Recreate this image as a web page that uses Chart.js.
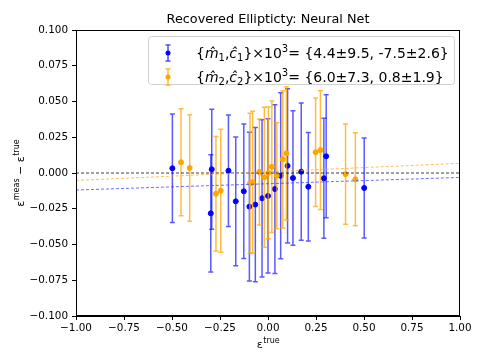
<!DOCTYPE html>
<html>
<head>
<meta charset="utf-8">
<script src="https://cdn.jsdelivr.net/npm/chart.js@4.4.1/dist/chart.umd.min.js"></script>
<style>
  html, body { margin: 0; padding: 0; background: #fff; }
</style>
</head>
<body>
<canvas id="ellipChart" width="477" height="358"></canvas>
<script>
// component 1 (blue)
const eTrue1 = [-0.498, -0.293, -0.298, -0.206, -0.168, -0.126, -0.097, -0.066, -0.031, 0.000, 0.036, 0.066, 0.102, 0.130, 0.173, 0.210, 0.291, 0.303, 0.501];
const resid1 = [0.0033, 0.0026, -0.0282, 0.0016, -0.0198, -0.0128, -0.0235, -0.0221, -0.0177, -0.0160, -0.0112, -0.0019, 0.0050, -0.0035, 0.0009, -0.0096, -0.0037, 0.0117, -0.0105];
const err1 = [0.038, 0.042, 0.041, 0.039, 0.045, 0.047, 0.052, 0.054, 0.055, 0.054, 0.059, 0.058, 0.054, 0.047, 0.048, 0.038, 0.042, 0.043, 0.035];

// component 2 (orange)
const eTrue2 = [-0.453, -0.408, -0.271, -0.246, -0.094, -0.080, -0.045, -0.019, 0.002, 0.020, 0.046, 0.077, 0.096, 0.248, 0.273, 0.404, 0.455];
const resid2 = [0.0075, 0.0035, -0.0145, -0.0124, -0.0073, -0.0064, 0.0007, -0.0030, 0.0001, 0.0044, -0.0019, 0.0096, 0.0138, 0.0145, 0.0160, -0.0008, -0.0044];
const err2 = [0.0374, 0.0373, 0.040, 0.043, 0.049, 0.0495, 0.037, 0.049, 0.046, 0.046, 0.037, 0.048, 0.0466, 0.038, 0.0415, 0.035, 0.0325];

// fitted m, c (x10^-3)
const fitM = [4.4, 6.0];
const fitC = [-7.5, 0.8];
const fitText = ['= {4.4\u00b19.5, -7.5\u00b12.6}', '= {6.0\u00b17.3, 0.8\u00b11.9}'];

const xTicks = [-1, -0.75, -0.5, -0.25, 0, 0.25, 0.5, 0.75, 1];
const yTicks = [-0.1, -0.075, -0.05, -0.025, 0, 0.025, 0.05, 0.075, 0.1];

const FONT = 'DejaVu Sans';
const minus = s => s.replace('-', '\u2212');

const pts = (xs, ys) => xs.map((v, i) => ({ x: v, y: ys[i] }));
const fitLine = k => [-1, 1].map(v => ({ x: v, y: (fitM[k] * v + fitC[k]) / 1000 }));

// legend label as pieces: [text, style]
const legendParts = k => [
   ['{', 'n'], ['m\u0302', 'i'], [String(k + 1), 'sub'], [',', 'n'], ['c\u0302', 'i'], [String(k + 1), 'sub'],
   ['}\u00d710', 'n'], ['3', 'sup'], [fitText[k], 'n']
];

const errorBars = {
   id: 'errorBars',
   beforeDatasetDraw(chart, args) {
      const ds = chart.data.datasets[args.index];
      if (!ds.errors) return;
      const { ctx, scales: { x, y } } = chart;
      ctx.save();
      ctx.strokeStyle = ds.barColor;
      ctx.lineWidth = 1.5;
      ds.data.forEach((p, j) => {
         const px = x.getPixelForValue(p.x);
         const top = y.getPixelForValue(p.y + ds.errors[j]);
         const bot = y.getPixelForValue(p.y - ds.errors[j]);
         ctx.beginPath();
         ctx.moveTo(px, top); ctx.lineTo(px, bot);
         ctx.moveTo(px - 2.5, top); ctx.lineTo(px + 2.5, top);
         ctx.moveTo(px - 2.5, bot); ctx.lineTo(px + 2.5, bot);
         ctx.stroke();
      });
      ctx.restore();
   }
};

const decorations = {
   id: 'decorations',
   afterDraw(chart) {
      const { ctx, chartArea: a } = chart;
      ctx.save();
      // frame
      ctx.strokeStyle = '#000';
      ctx.lineWidth = 1;
      ctx.strokeRect(a.left + 0.5, a.top + 0.5, a.right - a.left - 1, a.bottom - a.top - 1);

      // title
      ctx.fillStyle = '#000';
      ctx.font = '12.8px ' + FONT;
      ctx.textAlign = 'center';
      ctx.textBaseline = 'alphabetic';
      ctx.fillText('Recovered Ellipticty: Neural Net', (a.left + a.right) / 2, 23);

      // axis titles
      ctx.textAlign = 'left';
      const drawSup = (base, sup, cx, cy) => {
         ctx.font = '11px ' + FONT;
         const w1 = ctx.measureText(base).width;
         ctx.font = '8px ' + FONT;
         const w2 = ctx.measureText(sup).width;
         const sx = cx - (w1 + w2) / 2;
         ctx.font = '11px ' + FONT;
         ctx.fillText(base, sx, cy);
         ctx.font = '8px ' + FONT;
         ctx.fillText(sup, sx + w1 + 0.5, cy - 5);
      };
      drawSup('\u03b5', 'true', (a.left + a.right) / 2, 348);

      ctx.save();
      ctx.translate(24, (a.top + a.bottom) / 2);
      ctx.rotate(-Math.PI / 2);
      ctx.font = '11px ' + FONT;
      const wE = ctx.measureText('\u03b5').width;
      const wDash = ctx.measureText(' \u2212 ').width;
      ctx.font = '8px ' + FONT;
      const wM = ctx.measureText('meas').width;
      const wT = ctx.measureText('true').width;
      let sx = -(wE * 2 + wM + wT + wDash + 1) / 2;
      ctx.font = '11px ' + FONT;
      ctx.fillText('\u03b5', sx, 0); sx += wE;
      ctx.font = '8px ' + FONT;
      ctx.fillText('meas', sx + 0.5, -5); sx += wM + 0.5;
      ctx.font = '11px ' + FONT;
      ctx.fillText(' \u2212 ', sx, 0); sx += wDash;
      ctx.fillText('\u03b5', sx, 0); sx += wE;
      ctx.font = '8px ' + FONT;
      ctx.fillText('true', sx + 0.5, -5);
      ctx.restore();

      // legend
      const lx = 148.5, ly = 36.5, lw = 306, lh = 48;
      ctx.beginPath();
      ctx.roundRect(lx, ly, lw, lh, 3);
      ctx.fillStyle = 'rgba(255,255,255,0.8)';
      ctx.fill();
      ctx.strokeStyle = '#d0d0d0';
      ctx.lineWidth = 1;
      ctx.stroke();
      const colors = ['rgba(0,0,255,0.7)', 'rgba(255,165,0,0.8)'];
      const dots = ['#0000ff', '#ffa500'];
      const fonts = {
         n: ['14px ' + FONT, 0],
         i: ['italic 14px ' + FONT, 0],
         sub: ['10px ' + FONT, 3],
         sup: ['10px ' + FONT, -6]
      };
      [53, 77].forEach((cy, k) => {
         const mx = 168;
         ctx.strokeStyle = colors[k];
         ctx.lineWidth = 1.5;
         ctx.beginPath();
         ctx.moveTo(mx, cy - 8); ctx.lineTo(mx, cy + 8);
         ctx.moveTo(mx - 2.5, cy - 8); ctx.lineTo(mx + 2.5, cy - 8);
         ctx.moveTo(mx - 2.5, cy + 8); ctx.lineTo(mx + 2.5, cy + 8);
         ctx.stroke();
         ctx.fillStyle = dots[k];
         ctx.beginPath();
         ctx.arc(mx, cy, 2.5, 0, Math.PI * 2);
         ctx.fill();
         ctx.fillStyle = '#000';
         ctx.textAlign = 'left';
         ctx.textBaseline = 'alphabetic';
         let tx = 196;
         legendParts(k).forEach(([t, st]) => {
            ctx.font = fonts[st][0];
            ctx.fillText(t, tx, cy + 5 + fonts[st][1]);
            tx += ctx.measureText(t).width;
         });
      });
      ctx.restore();
   }
};

const ctx = document.getElementById('ellipChart').getContext('2d');

new Chart(ctx, {
   type: 'scatter',
   data: {
      datasets: [
         {
            label: 'component 1',
            data: pts(eTrue1, resid1),
            errors: err1,
            barColor: 'rgba(0,0,255,0.65)',
            backgroundColor: '#0000ff',
            borderColor: '#0000ff',
            pointRadius: 2.5,
            order: 3
         },
         {
            label: 'component 2',
            data: pts(eTrue2, resid2),
            errors: err2,
            barColor: 'rgba(255,165,0,0.75)',
            backgroundColor: '#ffa500',
            borderColor: '#ffa500',
            pointRadius: 2.5,
            order: 2
         },
         {
            type: 'line',
            data: [{ x: -1, y: 0 }, { x: 1, y: 0 }],
            borderColor: 'rgba(0,0,0,0.75)',
            borderWidth: 1,
            borderDash: [3, 2],
            pointRadius: 0,
            order: 1
         },
         {
            type: 'line',
            data: fitLine(0),
            borderColor: 'rgba(60,60,255,0.75)',
            borderWidth: 1,
            borderDash: [3, 2],
            pointRadius: 0,
            order: 0
         },
         {
            type: 'line',
            data: fitLine(1),
            borderColor: 'rgba(255,170,30,0.75)',
            borderWidth: 1,
            borderDash: [3, 2],
            pointRadius: 0,
            order: 0
         }
      ]
   },
   options: {
      responsive: false,
      animation: false,
      layout: { padding: { left: 0, right: 17, top: 30, bottom: 0 } },
      scales: {
         x: {
            type: 'linear',
            min: -1, max: 1,
            afterFit: s => { s.height = 42; },
            afterBuildTicks: s => { s.ticks = xTicks.map(v => ({ value: v })); },
            grid: { display: true, drawOnChartArea: false, drawTicks: true, tickLength: 4, color: '#000' },
            border: { display: true, color: '#000', width: 1 },
            ticks: {
               padding: 2,
               color: '#000',
               font: { family: FONT, size: 10.4 },
               maxRotation: 0,
               callback: v => minus(v.toFixed(2))
            }
         },
         y: {
            type: 'linear',
            min: -0.1, max: 0.1,
            afterFit: s => { s.width = 76; },
            afterBuildTicks: s => { s.ticks = yTicks.map(v => ({ value: v })); },
            grid: { display: true, drawOnChartArea: false, drawTicks: true, tickLength: 4, color: '#000' },
            border: { display: true, color: '#000', width: 1 },
            ticks: {
               padding: 4,
               color: '#000',
               font: { family: FONT, size: 10.4 },
               callback: v => minus(v.toFixed(3))
            }
         }
      },
      plugins: {
         legend: { display: false },
         tooltip: { enabled: false },
         title: { display: false }
      }
   },
   plugins: [errorBars, decorations]
});
</script>
</body>
</html>
